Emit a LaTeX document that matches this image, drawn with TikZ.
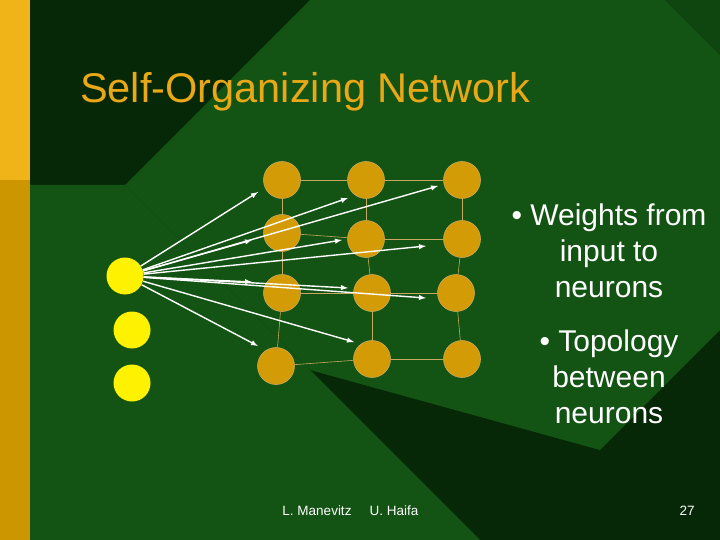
\documentclass[tikz,border=0pt]{standalone}
\usepackage{fontspec}
\setmainfont{Liberation Sans}
\definecolor{bgdark}{HTML}{062806}
\definecolor{bglight}{HTML}{135313}
\definecolor{stripA}{HTML}{F0B418}
\definecolor{stripB}{HTML}{CC9600}
\definecolor{neuron}{HTML}{D39B05}
\definecolor{gridline}{HTML}{C8A860}
\definecolor{titlecol}{HTML}{E8A818}
\tikzset{
  neuron/.style={circle, fill=neuron, draw=gridline, line width=0.6pt, minimum size=37pt, inner sep=0pt},
  inputn/.style={circle, fill=yellow, minimum size=37pt, inner sep=0pt},
  weight/.style={white, line width=1.4pt, -latex},
  topo/.style={gridline, line width=0.6pt},
  bullet/.style={white, font=\fontsize{30}{36}\selectfont, align=center}
}
\begin{document}
\begin{tikzpicture}[x=1pt,y=-1pt]
  \useasboundingbox (0,0) rectangle (720,540);
  % background
  \fill[bgdark] (0,0) rectangle (720,540);
  \fill[bglight] (125,185) -- (310,0) -- (665,0) -- (720,55) -- (720,330) -- (600,450) -- (310,370) -- cycle;
  \fill[bglight] (30,185) -- (125,185) -- (480,540) -- (30,540) -- cycle;
  \fill[bglight!70!bgdark] (665,0) -- (720,0) -- (720,55) -- cycle;
  \fill[stripA] (0,0) rectangle (30,180);
  \fill[stripB] (0,180) rectangle (30,540);

  % title
  \node[anchor=west, text=titlecol, font=\fontsize{41.5}{48}\selectfont, inner sep=0pt] (title) at (80,92) {Self-Organizing Network};

  % neurons
  \node[neuron] (n11) at (282,180) {};
  \node[neuron] (n12) at (366,180) {};
  \node[neuron] (n13) at (462,180) {};
  \node[neuron] (n21) at (282,233) {};
  \node[neuron] (n22) at (366,239) {};
  \node[neuron] (n23) at (462,239) {};
  \node[neuron] (n31) at (282,293) {};
  \node[neuron] (n32) at (372,293) {};
  \node[neuron] (n33) at (456,293) {};
  \node[neuron] (n41) at (276,366) {};
  \node[neuron] (n42) at (372,359) {};
  \node[neuron] (n43) at (462,359) {};

  % topology
  \draw[topo] (n11) -- (n12); \draw[topo] (n12) -- (n13);
  \draw[topo] (n21) -- (n22); \draw[topo] (n22) -- (n23);
  \draw[topo] (n31) -- (n32); \draw[topo] (n32) -- (n33);
  \draw[topo] (n41) -- (n42); \draw[topo] (n42) -- (n43);
  \draw[topo] (n11) -- (n21); \draw[topo] (n21) -- (n31); \draw[topo] (n31) -- (n41);
  \draw[topo] (n12) -- (n22); \draw[topo] (n22) -- (n32); \draw[topo] (n32) -- (n42);
  \draw[topo] (n13) -- (n23); \draw[topo] (n23) -- (n33); \draw[topo] (n33) -- (n43);

  % inputs
  \node[inputn] (in1) at (125,276) {};
  \node[inputn] (in2) at (132,330) {};
  \node[inputn] (in3) at (132,383) {};

  % weights
  \coordinate (w11) at (258,192);
  \coordinate (w12) at (348,198);
  \coordinate (w13) at (438,186);
  \coordinate (w21) at (252,240);
  \coordinate (w22) at (342,240);
  \coordinate (w23) at (426,246);
  \coordinate (w31) at (252,282);
  \coordinate (w32) at (348,288);
  \coordinate (w33) at (426,298);
  \coordinate (w41) at (258,346);
  \coordinate (w42) at (354,342);
  \foreach \t in {w11,w12,w13,w21,w22,w23,w31,w32,w33,w41,w42}
    \draw[weight] (in1) -- (\t);

  % text
  \node[bullet] (b1) at (609,251) {• Weights from\\input to\\neurons};
  \node[bullet] (b2) at (609,377) {• Topology\\between\\neurons};
  \node[white, font=\fontsize{13.5}{16}\selectfont] (f1) at (317,511) {L. Manevitz};
  \node[white, font=\fontsize{13.5}{16}\selectfont] (f2) at (394,511) {U. Haifa};
  \node[white, font=\fontsize{13.5}{16}\selectfont] (f3) at (687,511) {27};
\end{tikzpicture}
\end{document}
